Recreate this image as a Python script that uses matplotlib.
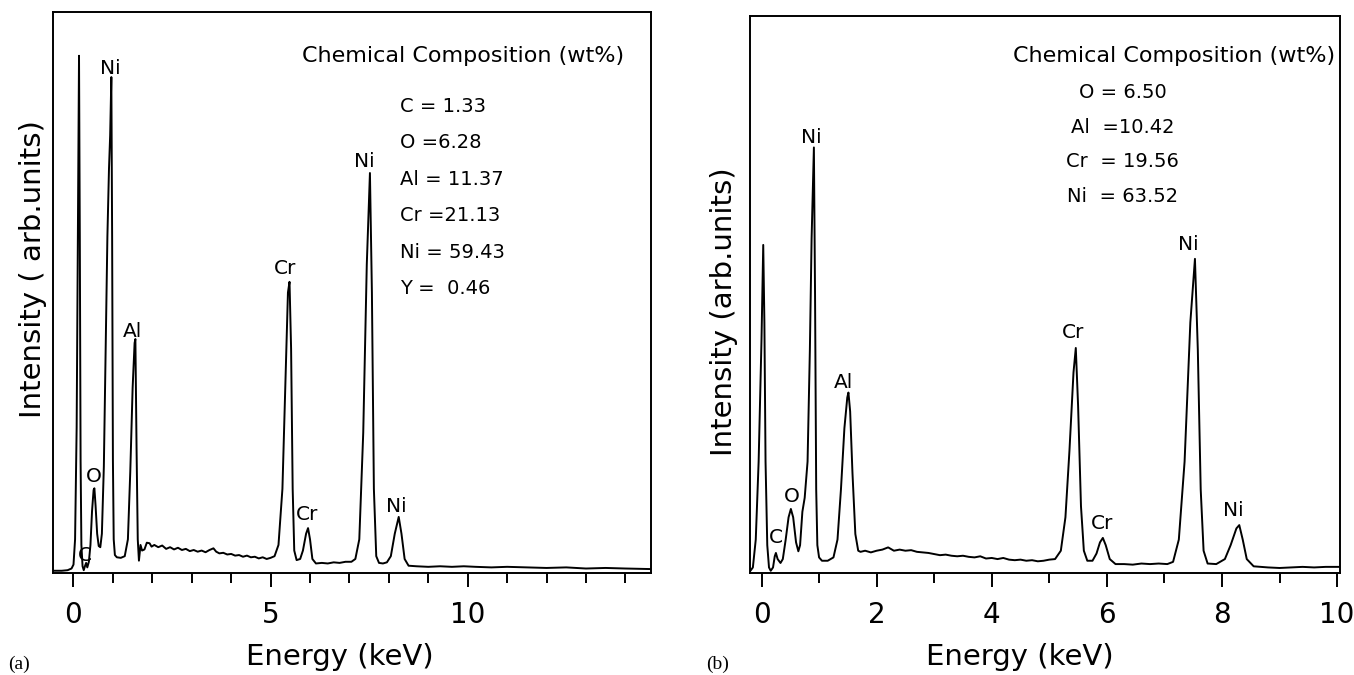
import matplotlib
matplotlib.use("Agg")
import matplotlib.pyplot as plt
from matplotlib.ticker import MultipleLocator

plt.rcParams['font.family'] = ['DejaVu Sans']

# spectrum (a): energy in keV, intensity as fraction of panel height
energy_a = [-0.52, -0.3, -0.15, -0.05, 0.0, 0.04, 0.08, 0.11, 0.14, 0.16, 0.18, 0.2, 0.23,
            0.26, 0.29, 0.32, 0.35, 0.39, 0.43, 0.47, 0.51, 0.53, 0.56, 0.6, 0.64, 0.68,
            0.72, 0.77, 0.82, 0.86, 0.9, 0.93, 0.96, 0.98, 1.0, 1.02, 1.05, 1.1, 1.2, 1.3,
            1.38, 1.44, 1.5, 1.55, 1.57, 1.6, 1.63, 1.66, 1.7, 1.74, 1.8, 1.86, 1.93, 1.98,
            2.05, 2.15, 2.25, 2.35, 2.45, 2.55, 2.65, 2.75, 2.85, 2.95, 3.05, 3.15, 3.25,
            3.35, 3.45, 3.55, 3.62, 3.7, 3.8, 3.9, 4.0, 4.1, 4.2, 4.3, 4.4, 4.5, 4.6, 4.7,
            4.8, 4.9, 5.0, 5.1, 5.2, 5.3, 5.38, 5.44, 5.48, 5.52, 5.56, 5.6, 5.66, 5.75,
            5.82, 5.9, 5.95, 6.0, 6.06, 6.15, 6.3, 6.45, 6.6, 6.75, 6.9, 7.05, 7.15, 7.25,
            7.35, 7.44, 7.52, 7.57, 7.62, 7.68, 7.75, 7.85, 7.95, 8.05, 8.15, 8.25, 8.32,
            8.4, 8.5, 8.7, 9.0, 9.3, 9.6, 9.9, 10.2, 10.6, 11.0, 11.5, 12.0, 12.5, 13.0,
            13.5, 14.0, 14.65]
inten_a = [0.004, 0.004, 0.005, 0.008, 0.015, 0.06, 0.26, 0.6, 0.922, 0.6, 0.2, 0.05, 0.012,
           0.005, 0.012, 0.018, 0.01, 0.02, 0.05, 0.11, 0.148, 0.151, 0.12, 0.07, 0.048, 0.046,
           0.07, 0.19, 0.42, 0.6, 0.72, 0.78, 0.884, 0.6, 0.2, 0.06, 0.032, 0.028, 0.027, 0.03,
           0.06, 0.18, 0.33, 0.41, 0.417, 0.22, 0.06, 0.022, 0.05, 0.04, 0.042, 0.054, 0.053, 0.047,
           0.05, 0.046, 0.049, 0.043, 0.046, 0.042, 0.045, 0.041, 0.043, 0.039, 0.041, 0.038, 0.04,
           0.037, 0.041, 0.044, 0.038, 0.035, 0.036, 0.033, 0.034, 0.031, 0.032, 0.029, 0.031, 0.028,
           0.029, 0.026, 0.028, 0.025, 0.027, 0.03, 0.05, 0.15, 0.35, 0.5, 0.519, 0.4, 0.15, 0.04,
           0.023, 0.025, 0.04, 0.07, 0.08, 0.06, 0.025, 0.017, 0.018, 0.017, 0.019, 0.018, 0.02,
           0.02, 0.025, 0.06, 0.25, 0.55, 0.713, 0.5, 0.15, 0.03, 0.018, 0.017, 0.019, 0.03, 0.07,
           0.1, 0.07, 0.025, 0.013, 0.012, 0.011, 0.012, 0.011, 0.012, 0.011, 0.01, 0.011, 0.01,
           0.009, 0.01, 0.008, 0.009, 0.008, 0.007]

# spectrum (b)
energy_b = [-0.2, -0.15, -0.1, -0.05, 0.0, 0.03, 0.05, 0.07, 0.1, 0.13, 0.16, 0.2, 0.23,
            0.25, 0.28, 0.33, 0.37, 0.42, 0.47, 0.51, 0.55, 0.6, 0.64, 0.67, 0.71, 0.75,
            0.8, 0.84, 0.87, 0.91, 0.93, 0.95, 0.97, 1.0, 1.05, 1.15, 1.25, 1.32, 1.38,
            1.44, 1.49, 1.51, 1.54, 1.58, 1.63, 1.68, 1.72, 1.8, 1.9, 2.0, 2.1, 2.2, 2.3,
            2.4, 2.5, 2.6, 2.7, 2.8, 2.9, 3.0, 3.1, 3.2, 3.3, 3.4, 3.5, 3.6, 3.7, 3.8, 3.9,
            4.0, 4.1, 4.2, 4.3, 4.4, 4.5, 4.6, 4.7, 4.8, 4.9, 5.0, 5.1, 5.2, 5.28, 5.35,
            5.42, 5.46, 5.5, 5.55, 5.6, 5.66, 5.75, 5.82, 5.88, 5.93, 5.98, 6.05, 6.15,
            6.3, 6.45, 6.6, 6.75, 6.9, 7.05, 7.15, 7.25, 7.35, 7.45, 7.53, 7.58, 7.63,
            7.68, 7.75, 7.9, 8.05, 8.15, 8.25, 8.3, 8.36, 8.43, 8.55, 8.8, 9.0, 9.2, 9.4,
            9.6, 9.8, 10.05]
inten_b = [0.003, 0.01, 0.06, 0.2, 0.42, 0.589, 0.45, 0.2, 0.05, 0.01, 0.004, 0.01, 0.03,
           0.036, 0.025, 0.018, 0.025, 0.06, 0.1, 0.115, 0.1, 0.055, 0.039, 0.05, 0.11, 0.135,
           0.2, 0.4, 0.6, 0.764, 0.5, 0.15, 0.05, 0.028, 0.022, 0.022, 0.028, 0.06, 0.15,
           0.26, 0.315, 0.324, 0.29, 0.18, 0.07, 0.04, 0.038, 0.04, 0.037, 0.04, 0.042, 0.046, 0.04,
           0.042, 0.04, 0.041, 0.038, 0.037, 0.036, 0.034, 0.032, 0.033, 0.031, 0.03, 0.031, 0.029,
           0.028, 0.03, 0.026, 0.027, 0.025, 0.027, 0.024, 0.023, 0.024, 0.022, 0.023, 0.021, 0.022,
           0.024, 0.025, 0.04, 0.1, 0.22, 0.36, 0.404, 0.3, 0.12, 0.04, 0.022, 0.022, 0.035, 0.055,
           0.063, 0.05, 0.025, 0.016, 0.016, 0.015, 0.017, 0.016, 0.017, 0.016, 0.02, 0.06, 0.2,
           0.45, 0.564, 0.4, 0.15, 0.04, 0.017, 0.016, 0.025, 0.05, 0.08, 0.086, 0.06, 0.025,
           0.012, 0.01, 0.009, 0.01, 0.011, 0.01, 0.011, 0.011]

# peak labels: element, energy, height
peaks_a = ["Ni", "O", "C", "Al", "Cr", "Cr", "Ni", "Ni"]
peak_x_a = [0.94, 0.52, 0.28, 1.5, 5.37, 5.93, 7.38, 8.2]
peak_y_a = [0.899, 0.172, 0.032, 0.431, 0.543, 0.104, 0.733, 0.118]

peaks_b = ["C", "O", "Ni", "Al", "Cr", "Cr", "Ni", "Ni"]
peak_x_b = [0.25, 0.52, 0.87, 1.42, 5.41, 5.92, 7.42, 8.2]
peak_y_b = [0.063, 0.137, 0.781, 0.342, 0.432, 0.089, 0.59, 0.112]

# chemical composition (wt%)
comp_a = ["C = 1.33", "O =6.28", "Al = 11.37", "Cr =21.13", "Ni = 59.43", "Y =  0.46"]
comp_b = ["O = 6.50", "Al  =10.42", "Cr  = 19.56", "Ni  = 63.52"]

fig = plt.figure(figsize=(13.54, 6.75), dpi=100)
ax_a = fig.add_axes([53 / 1354, 1 - 573 / 675, 598 / 1354, 561 / 675])
ax_b = fig.add_axes([750 / 1354, 1 - 573 / 675, 590 / 1354, 557 / 675])

panels = [
    (ax_a, energy_a, inten_a, (-0.52, 14.65), 5, peaks_a, peak_x_a, peak_y_a,
     "Intensity ( arb.units)"),
    (ax_b, energy_b, inten_b, (-0.2, 10.05), 2, peaks_b, peak_x_b, peak_y_b,
     "Intensity (arb.units)"),
]

for ax, e, y, xlim, major, names, px, py, ylab in panels:
    ax.plot(e, y, color='black', lw=1.4)
    ax.set_xlim(*xlim)
    ax.set_ylim(0, 1)
    ax.set_yticks([])
    ax.xaxis.set_major_locator(MultipleLocator(major))
    ax.xaxis.set_minor_locator(MultipleLocator(1))
    ax.tick_params(axis='x', which='major', direction='out', length=10, width=1.4,
                   labelsize=20, pad=10)
    ax.tick_params(axis='x', which='minor', direction='out', length=7, width=1.4)
    for s in ax.spines.values():
        s.set_linewidth(1.4)
    ax.set_xlabel("Energy (keV)", fontsize=21)
    ax.set_ylabel(ylab, fontsize=21)
    for n, xx, yy in zip(names, px, py):
        ax.text(xx, yy, n, fontsize=14.5, ha='center', va='center')

ax_a.xaxis.set_label_coords(0.479, -0.125)
ax_b.xaxis.set_label_coords(0.458, -0.126)
ax_a.yaxis.set_label_coords(-0.01, 0.542)
ax_b.yaxis.set_label_coords(-0.02, 0.47)

ax_a.text(0.955, 0.922, "Chemical Composition (wt%)", transform=ax_a.transAxes,
          fontsize=16, ha='right', va='center')
for i, t in enumerate(comp_a):
    ax_a.text(0.58, 0.832 - i * 0.065, t, transform=ax_a.transAxes,
              fontsize=14, ha='left', va='center')

ax_b.text(0.992, 0.929, "Chemical Composition (wt%)", transform=ax_b.transAxes,
          fontsize=16, ha='right', va='center')
for i, t in enumerate(comp_b):
    ax_b.text(0.632, 0.862 - i * 0.062, t, transform=ax_b.transAxes,
              fontsize=14, ha='center', va='center')

fig.text(8 / 1354, 1 - 664 / 675, "(a)", family='Liberation Serif', fontsize=14,
         ha='left', va='center')
fig.text(706 / 1354, 1 - 664 / 675, "(b)", family='Liberation Serif', fontsize=14,
         ha='left', va='center')

fig.savefig("out.png", dpi=100)
